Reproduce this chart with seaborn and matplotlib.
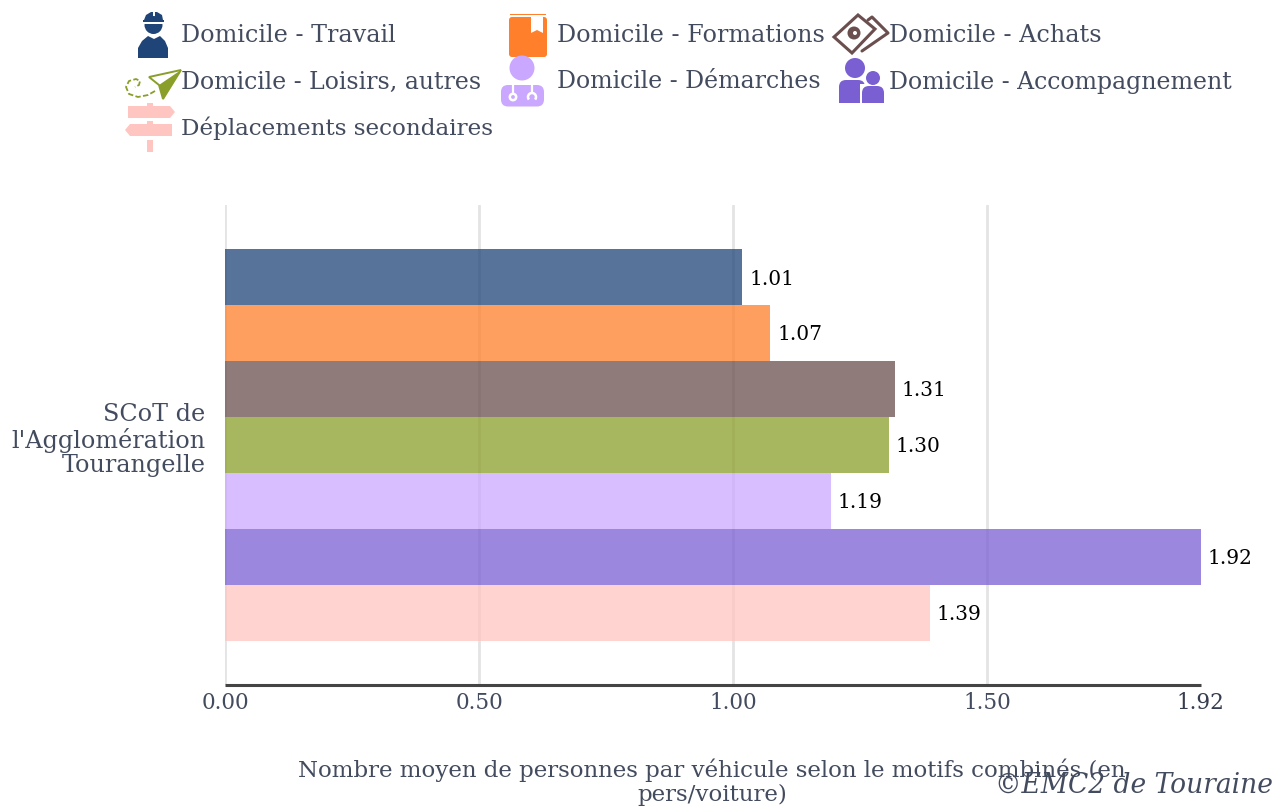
import pandas as pd
import matplotlib
matplotlib.use("Agg")
import matplotlib.pyplot as plt
import seaborn as sns
from matplotlib.patches import Arc, Circle, FancyBboxPatch, Polygon, Rectangle
from matplotlib.transforms import ScaledTranslation

territoire = "SCoT de\nl'Agglomération\nTourangelle"
motifs = ["Domicile - Travail", "Domicile - Formations", "Domicile - Achats",
          "Domicile - Loisirs, autres", "Domicile - Démarches",
          "Domicile - Accompagnement", "Déplacements secondaires"]
valeurs = [1.018, 1.073, 1.318, 1.307, 1.192, 1.92, 1.387]
etiquettes = ["1.01", "1.07", "1.31", "1.30", "1.19", "1.92", "1.39"]
couleurs = ["#1f4477", "#ff7f2a", "#6b4f4f", "#8a9f2a", "#cba8ff", "#7a5fd3", "#ffc5c0"]
ticks = [0, 0.5, 1.0, 1.5, 1.92]
tick_labels = ["0.00", "0.50", "1.00", "1.50", "1.92"]
titre_x = "Nombre moyen de personnes par véhicule selon le motifs combinés (en\npers/voiture)"
credit = "©EMC2 de Touraine"

W, H = 1278, 808
GRIS = "#434b5e"

sns.set_theme(style="white")
plt.rcParams["font.family"] = ["DejaVu Serif"]

df = pd.DataFrame({"territoire": territoire, "motif": motifs, "valeur": valeurs})

fig = plt.figure(figsize=(W / 100, H / 100), dpi=100)
ax = fig.add_axes([225 / W, 1 - 685 / H, 975.5 / W, 480 / H])

sns.barplot(data=df, y="territoire", x="valeur", hue="motif", hue_order=motifs,
            palette=couleurs, orient="h", width=0.815, saturation=1, alpha=0.75,
            linewidth=0, legend=False, ax=ax, zorder=3)
for cont, lab in zip(ax.containers, etiquettes):
    for t in ax.bar_label(cont, labels=[lab], padding=5, fontsize=14.5, color="black", zorder=5):
        t.xyann = (t.xyann[0], -1.2)

ax.set_xlim(0, 1.92)
ax.set_ylim(0.5, -0.5)
ax.set_xticks(ticks)
ax.set_xticklabels(tick_labels, fontsize=15.5, color=GRIS)
ax.get_xticklabels()[-1].set_color("#363d4f")
ax.tick_params(axis="x", length=0, pad=5)
ax.tick_params(axis="y", length=0, pad=14)
ax.set_yticks([0])
ax.set_yticklabels([territoire], fontsize=17.2, color=GRIS, linespacing=1.07, ha="right")
lab_y = ax.get_yticklabels()[0]
lab_y.set_transform(lab_y.get_transform() + ScaledTranslation(0, 8 / 100, fig.dpi_scale_trans))
ax.set_xlabel("")
ax.set_ylabel("")
ax.grid(axis="x", color="#e4e4e4", lw=2, zorder=0)
ax.xaxis.get_gridlines()[-1].set_visible(False)
ax.set_axisbelow(True)
sns.despine(ax=ax, left=True, top=True, right=True)
ax.spines["bottom"].set_color("#444444")
ax.spines["bottom"].set_linewidth(2.2)
ax.spines["bottom"].set_capstyle("butt")

# calque en pixels pour la légende à icônes et les textes libres
ov = fig.add_axes([0, 0, 1, 1], facecolor="none")
ov.set_xlim(0, W)
ov.set_ylim(H, 0)
ov.axis("off")


def rond(x, y, r, c, **kw):
    ov.add_patch(Circle((x, y), r, fc=c, ec="none", **kw))


def bloc(x, y, w, h, c, r=3):
    ov.add_patch(FancyBboxPatch((x + r, y + r), w - 2 * r, h - 2 * r,
                                boxstyle=f"round,pad={r}", fc=c, ec="none"))


def rect(x, y, w, h, c):
    ov.add_patch(Rectangle((x, y), w, h, fc=c, ec="none"))


def icone_travail(c):
    ov.add_patch(Polygon([(144, 20), (146, 15), (151, 12), (157, 12), (162, 15), (163, 20)], fc=c, ec="none"))
    rect(153, 11, 2, 9, "white")
    rect(143, 20, 21, 2, c)
    rond(153.5, 25, 9, c)
    rect(143, 22, 21, 2, "white")
    ov.add_patch(Polygon([(138, 58), (138, 48), (142, 41), (148, 36), (154, 39), (160, 36),
                          (165, 41), (168, 48), (168, 58)], fc=c, ec="none"))


def icone_formations(c):
    bloc(509, 17, 38, 40, c, r=3)
    rect(510, 13.5, 36, 1.5, c)
    ov.add_patch(Polygon([(531, 15), (543, 15), (543, 33), (537, 30), (531, 33)], fc="white", ec="none"))


def icone_achats(c):
    ov.plot([868, 872, 888, 862], [20, 17, 33, 51], color=c, lw=2.2)
    ov.add_patch(Polygon([(834, 37), (858, 15), (875, 29), (852, 53)], fc="white", ec=c, lw=2.2, zorder=3))
    rond(854, 33, 6.5, c, zorder=4)
    rond(855, 33, 2, "white", zorder=5)


def icone_loisirs(c):
    ov.add_patch(Polygon([(181, 70), (149, 77), (159, 85), (163, 99)], fc="white", ec=c, lw=1.4))
    ov.add_patch(Polygon([(181, 70), (159, 85), (163, 99)], fc=c, ec="none"))
    ov.plot([155, 148, 138, 129, 126, 129, 136, 140, 139, 135],
            [91, 95, 97, 94, 87, 81, 79, 81, 85, 87], color=c, lw=1.3, ls=(0, (3, 1.3)))


def icone_demarches(c):
    rond(522, 68, 12.5, c)
    bloc(501, 85, 43, 21.5, c, r=7)
    ov.plot([513, 513], [85, 93], color="white", lw=1.6)
    ov.add_patch(Circle((513, 97), 3.2, fc=c, ec="white", lw=1.8))
    ov.plot([532, 532], [85, 92], color="white", lw=1.6)
    ov.add_patch(Arc((532, 97), 8, 8, theta1=140, theta2=40, color="white", lw=1.8))


def icone_accompagnement(c):
    rond(855, 68, 10, c)
    rond(873, 78, 7, c)
    bloc(839, 80, 26, 23, c, r=7)
    rect(839, 92, 21, 11, c)
    rect(860, 84, 6, 19, "white")
    bloc(862, 86, 22, 17, c, r=7)
    rect(862, 95, 22, 8, c)


def icone_secondaires(c):
    rect(147, 103, 6, 4, c)
    ov.add_patch(Polygon([(128, 106), (170, 106), (175, 112), (170, 118), (128, 118)], fc=c, ec="none"))
    rect(147, 121, 6, 4, c)
    ov.add_patch(Polygon([(172, 124), (130, 124), (125, 130), (130, 136), (172, 136)], fc=c, ec="none"))
    rect(147, 140, 6, 12, c)


icones = [icone_travail, icone_formations, icone_achats, icone_loisirs,
          icone_demarches, icone_accompagnement, icone_secondaires]
for dessin, c in zip(icones, couleurs):
    dessin(c)

pos_legende = [(181, 36), (557, 36), (889, 36), (181, 82), (557, 82), (889, 82), (181, 128)]
tailles = [17.2, 17.2, 17.2, 17, 17, 17, 16.6]
for (x, y), txt, taille in zip(pos_legende, motifs, tailles):
    ov.text(x, y, txt, fontsize=taille, color=GRIS, va="center", ha="left")

ov.text(712, 782, titre_x, fontsize=16.5, color=GRIS, ha="center", va="center",
        linespacing=1.14)
ov.text(1273, 785, credit, fontsize=19.1, style="italic", color=GRIS, ha="right", va="center")

fig.savefig("out.png", dpi=100, facecolor="white")
